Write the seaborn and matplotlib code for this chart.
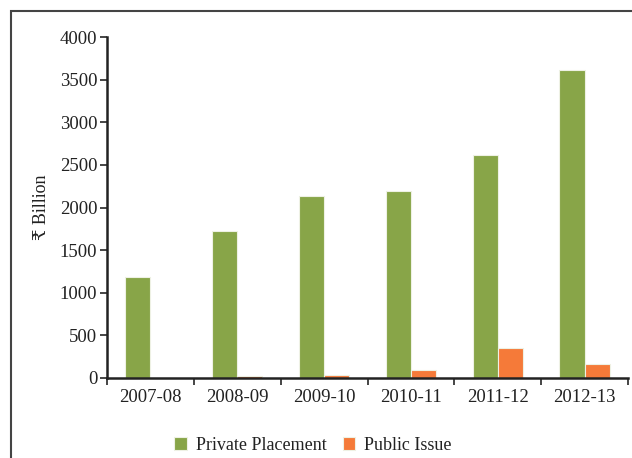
import matplotlib
matplotlib.use("Agg")
import matplotlib.pyplot as plt
import matplotlib.patches as mpatches
import seaborn as sns
import pandas as pd

years = ["2007-08", "2008-09", "2009-10", "2010-11", "2011-12", "2012-13"]
private_placement = [1180, 1730, 2130, 2190, 2610, 3610]
public_issue = [0, 18, 30, 90, 355, 165]

df = pd.DataFrame({
    "year": years * 2,
    "value": private_placement + public_issue,
    "series": ["Private Placement"] * 6 + ["Public Issue"] * 6,
})

sns.set_theme(style="white")
plt.rcParams["font.family"] = ["Liberation Serif", "DejaVu Serif", "DejaVu Sans"]

fig = plt.figure(figsize=(6.32, 4.58), dpi=100)
ax = fig.add_axes([107 / 632, 1 - 378 / 458, 521 / 632, 341 / 458])

# outer frame (top and left edges visible)
fig.patches.append(mpatches.Rectangle((11 / 632, -0.2), 1.2, 1.2 - 11 / 458,
                                      transform=fig.transFigure, fill=False,
                                      edgecolor="#444444", linewidth=1.5))

sns.barplot(data=df, x="year", y="value", hue="series",
            palette=["#88a548", "#f57a39"], saturation=1, width=0.58,
            edgecolor="#eef1e4", linewidth=0.8, ax=ax)

ax.set_ylim(0, 4000)
ax.set_xlim(-0.5, 5.5)
ax.set_yticks(range(0, 4001, 500))
ax.set_xlabel("")
ax.set_ylabel("₹ Billion", fontsize=13, labelpad=7, color="#222222")

ax.set_xticks([i - 0.5 for i in range(7)], minor=True)
ax.tick_params(axis="x", which="major", length=0, pad=8, labelsize=13.5, labelcolor="#222222")
ax.tick_params(axis="x", which="minor", length=5, width=1.2, direction="out", bottom=True)
ax.tick_params(axis="y", length=5, width=1.2, direction="out", left=True, labelsize=13.5,
               pad=2, labelcolor="#222222")

for side in ["top", "right"]:
    ax.spines[side].set_visible(False)
for side in ["left", "bottom"]:
    ax.spines[side].set_color("#222222")
    ax.spines[side].set_linewidth(1.8)

leg = ax.legend(loc="upper center", bbox_to_anchor=(0.395, -0.125), ncol=2, frameon=False,
                fontsize=13, handlelength=0.7, handleheight=0.7, handletextpad=0.5,
                columnspacing=0.9, title=None)
for t in leg.get_texts():
    t.set_color("#222222")

fig.savefig("out.png", dpi=100)
